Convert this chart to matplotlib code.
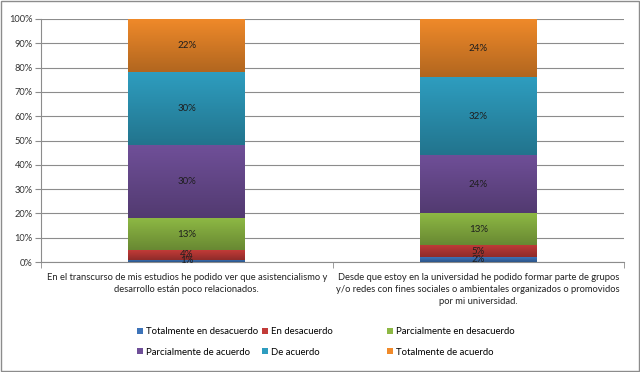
import numpy as np
import matplotlib
matplotlib.use("Agg")
import matplotlib.pyplot as plt
from matplotlib.patches import Rectangle, Patch
from matplotlib.colors import LinearSegmentedColormap, to_rgb

plt.rcParams['font.family'] = ['Lato', 'DejaVu Sans']

categories = [
    "En el transcurso de mis estudios he podido ver que asistencialismo y\n"
    "desarrollo están poco relacionados.",
    "Desde que estoy en la universidad he podido formar parte de grupos\n"
    "y/o redes con fines sociales o ambientales organizados o promovidos\n"
    "por mi universidad.",
]
series_names = [
    "Totalmente en desacuerdo", "En desacuerdo", "Parcialmente en desacuerdo",
    "Parcialmente de acuerdo", "De acuerdo", "Totalmente de acuerdo",
]
totalmente_desacuerdo = [1, 2]
en_desacuerdo = [4, 5]
parcial_desacuerdo = [13, 13]
parcial_acuerdo = [30, 24]
de_acuerdo = [30, 32]
totalmente_acuerdo = [22, 24]
colors = ["#3D73B8", "#C23B38", "#8DB844", "#6F4F98", "#2E9DBF", "#F08A2A"]

series = [totalmente_desacuerdo, en_desacuerdo, parcial_desacuerdo,
          parcial_acuerdo, de_acuerdo, totalmente_acuerdo]

fig = plt.figure(figsize=(6.4, 3.72), dpi=100)
ax = fig.add_axes([41/640, 1 - 262/372, (624-41)/640, (262-19)/372])

grad = np.linspace(0, 1, 64).reshape(-1, 1)
x = np.arange(len(categories))
bottom = np.zeros(len(categories))
for name, vals, c in zip(series_names, series, colors):
    vals = np.array(vals, dtype=float)
    bars = ax.bar(x, vals, 0.4, bottom=bottom, color=c, zorder=3)
    base = np.array(to_rgb(c))
    cmap = LinearSegmentedColormap.from_list("g", [base * 0.74, base])
    for p in bars.patches:
        x0, y0, w, h = p.get_x(), p.get_y(), p.get_width(), p.get_height()
        ax.imshow(grad, extent=[x0, x0 + w, y0, y0 + h], origin="lower",
                  cmap=cmap, aspect="auto", zorder=3.1, interpolation="bilinear")
    for xi, v, bt in zip(x, vals, bottom):
        ax.text(xi, bt + v / 2, f"{int(v)}%", ha="center", va="center",
                fontsize=7, color="#1E1E1E", zorder=4)
    bottom += vals

ax.set_xlim(-0.5, 1.5)
ax.set_ylim(0, 100)
ax.set_yticks(np.arange(0, 101, 10))
ax.set_yticklabels([f"{v}%" for v in range(0, 101, 10)], fontsize=6.7, color="#333333")
ax.yaxis.grid(True, color="#8C8C8C", linewidth=0.8, zorder=0)
ax.tick_params(axis="y", length=4, color="#8C8C8C", pad=2)

ax.set_xticks(x)
ax.set_xticklabels(categories, fontsize=6.75, color="#222222", linespacing=1.45)
ax.tick_params(axis="x", length=0, pad=8)
ax.set_xticks([-0.5, 0.5, 1.5], minor=True)
ax.tick_params(axis="x", which="minor", length=4, color="#8C8C8C")

for s in ["top", "right"]:
    ax.spines[s].set_visible(False)
for s in ["left", "bottom"]:
    ax.spines[s].set_color("#8C8C8C")

# legend: three columns placed at the reference positions
col_x = [137, 262, 387]
for k, cx in enumerate(col_x):
    idx = [k, k + 3]
    hs = [Patch(facecolor=colors[i]) for i in idx]
    fig.legend(hs, [series_names[i] for i in idx], loc="center left",
               bbox_to_anchor=(cx / 640, 1 - 342 / 372), frameon=False,
               fontsize=6.9, handlelength=0.6, handleheight=0.6,
               handletextpad=0.3, labelspacing=1.2, borderpad=0,
               borderaxespad=0)

fig.patches.append(Rectangle((0.002, 0.003), 0.996, 0.994, transform=fig.transFigure,
                             fill=False, edgecolor="#8C8C8C", linewidth=1))

fig.savefig("out.png", dpi=100)
